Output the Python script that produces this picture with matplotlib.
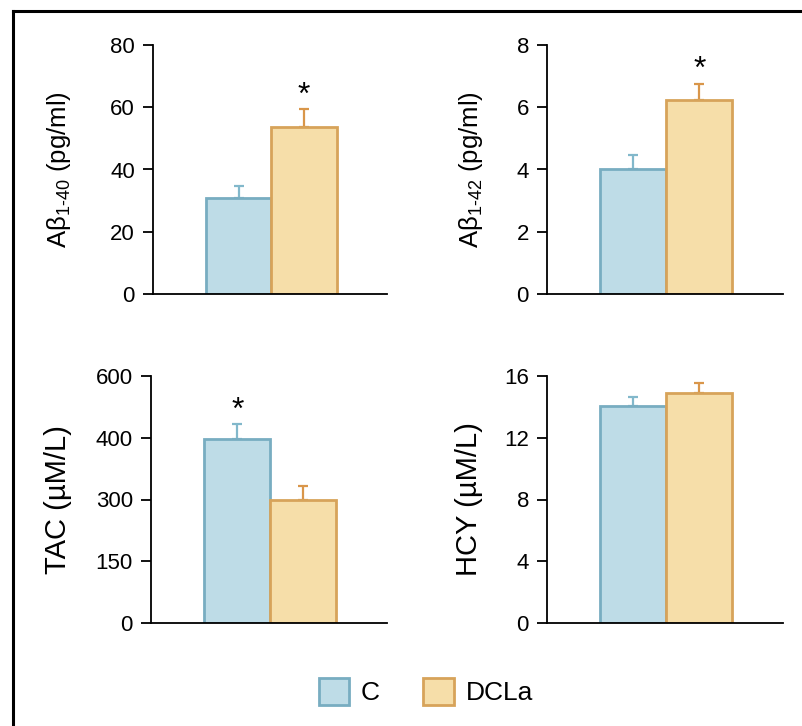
import numpy as np
import matplotlib
matplotlib.use("Agg")
import matplotlib.pyplot as plt
from matplotlib.patches import Patch
from matplotlib.lines import Line2D

plt.rcParams['font.family'] = ['Liberation Sans', 'DejaVu Sans']
plt.rcParams['mathtext.fontset'] = 'custom'
plt.rcParams['mathtext.rm'] = 'Liberation Sans'

groups = ["C", "DCLa"]

ab40_mean = [30.8, 53.6]
ab40_err = [3.9, 5.8]
ab42_mean = [4.02, 6.23]
ab42_err = [0.45, 0.52]
tac_mean = [447, 299]      # drawn on the axis as printed (ticks evenly spaced)
tac_err = [36, 34]
hcy_mean = [14.06, 14.9]
hcy_err = [0.58, 0.64]

ab40_ticks = [0, 20, 40, 60, 80]
ab42_ticks = [0, 2, 4, 6, 8]
tac_ticks = [0, 150, 300, 450, 600]
tac_ticklabels = ["0", "150", "300", "400", "600"]
hcy_ticks = [0, 4, 8, 12, 16]

ab40_star = [False, True]
ab42_star = [False, True]
tac_star = [True, False]
hcy_star = [False, False]

fill_cols = ["#bedce7", "#f6dea9"]
edge_cols = ["#78adc1", "#d7a35a"]
err_cols = ["#82b8cb", "#d9964a"]

W, H = 802, 726
fig = plt.figure(figsize=(W / 100, H / 100), dpi=100)

def px_axes(x0, x1, y0, y1):
    return fig.add_axes([x0 / W, 1 - y1 / H, (x1 - x0) / W, (y1 - y0) / H])

def panel(ax, means, errs, ticks, ticklabels, stars, label, labx, labsize):
    x = np.arange(len(means))
    for i in range(len(means)):
        ax.bar(x[i], means[i], width=1.0, color=fill_cols[i], edgecolor=edge_cols[i],
               linewidth=2, zorder=2)
        ax.errorbar(x[i], means[i], yerr=[[0], [errs[i]]], fmt='none', ecolor=err_cols[i],
                    elinewidth=1.6, capsize=3.8, capthick=1.6, zorder=1)
        if stars[i]:
            ax.annotate("*", (x[i], means[i] + errs[i]), xytext=(0, -1),
                        textcoords="offset points", ha="center", va="bottom", fontsize=23)
    ax.set_xlim(-1.31, 2.27)
    ax.set_ylim(ticks[0], ticks[-1])
    ax.set_yticks(ticks)
    ax.set_yticklabels(ticklabels)
    ax.set_xticks([])
    ax.spines['top'].set_visible(False)
    ax.spines['right'].set_visible(False)
    ax.spines['left'].set_linewidth(1.3)
    ax.spines['bottom'].set_linewidth(1.3)
    ax.tick_params(axis='y', direction='out', length=7, width=1.3, labelsize=16, pad=6)
    ax.set_ylabel(label, fontsize=labsize)
    ax.yaxis.set_label_coords(labx, 0.5)

ax1 = px_axes(153, 387, 45, 294)
panel(ax1, ab40_mean, ab40_err, ab40_ticks, [str(t) for t in ab40_ticks], ab40_star,
      "Aβ$_{\\text{1-40}}$ (pg/ml)", -0.34, 18.5)

ax2 = px_axes(547, 783, 45, 294)
panel(ax2, ab42_mean, ab42_err, ab42_ticks, [str(t) for t in ab42_ticks], ab42_star,
      "Aβ$_{\\text{1-42}}$ (pg/ml)", -0.263, 18.5)

ax3 = px_axes(151, 387, 376, 623)
panel(ax3, tac_mean, tac_err, tac_ticks, tac_ticklabels, tac_star,
      "TAC (µM/L)", -0.335, 21)

ax4 = px_axes(547, 783, 376, 623)
panel(ax4, hcy_mean, hcy_err, hcy_ticks, [str(t) for t in hcy_ticks], hcy_star,
      "HCY (µM/L)", -0.27, 21)

handles = [Patch(facecolor=fill_cols[i], edgecolor=edge_cols[i], linewidth=2) for i in range(2)]
fig.legend(handles, groups, loc="center", bbox_to_anchor=(0.531, 0.047), ncol=2,
           frameon=False, fontsize=19, handlelength=1.15, handleheight=1.15,
           columnspacing=1.65, handletextpad=0.45)

# outer frame (left and top edges only)
fig.add_artist(Line2D([13 / W, 13 / W], [0, 1 - 11 / H], transform=fig.transFigure,
                      color="black", linewidth=2.2))
fig.add_artist(Line2D([13 / W, 1], [1 - 11 / H, 1 - 11 / H], transform=fig.transFigure,
                      color="black", linewidth=2.2))

fig.savefig("out.png", dpi=100)
